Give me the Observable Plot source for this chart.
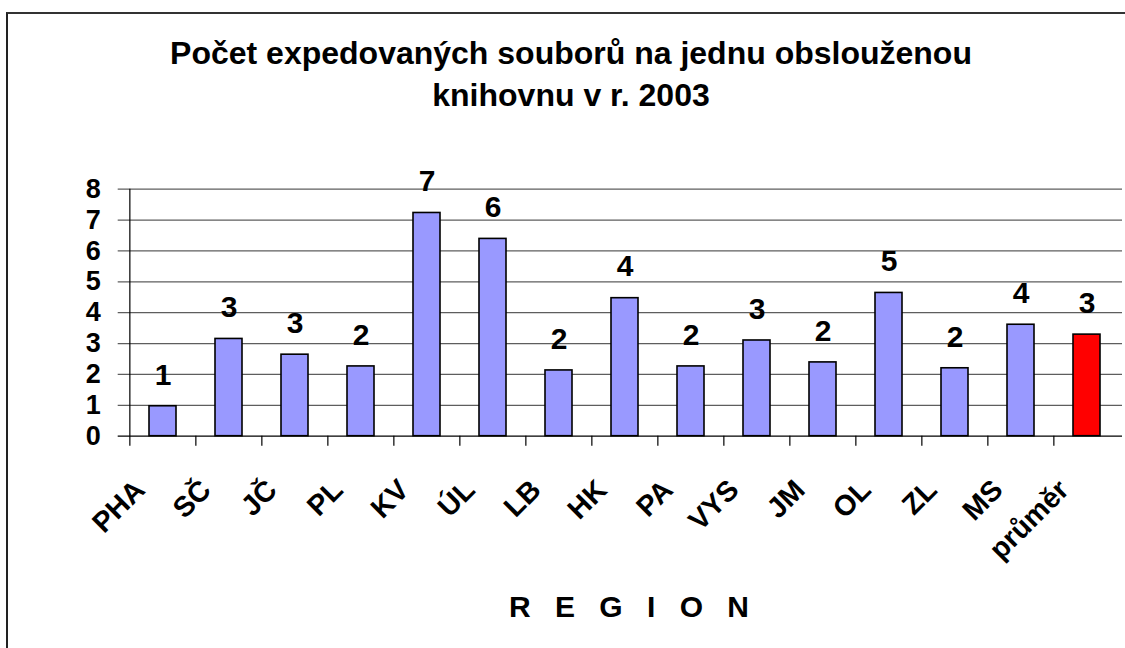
<!DOCTYPE html>
<html>
<head>
<meta charset="utf-8">
<script src="https://cdn.jsdelivr.net/npm/d3@7"></script>
<script src="https://cdn.jsdelivr.net/npm/@observablehq/plot@0.6"></script>
<style>
  html, body { margin: 0; padding: 0; background: #fff; }
  #wrap { position: relative; width: 1125px; height: 648px; overflow: hidden; font-family: "Liberation Sans", Arial, sans-serif; }
  #border { position: absolute; left: 6px; top: 12px; width: 1300px; height: 800px; border-top: 2px solid #333; border-left: 2px solid #222; }
  #title { position: absolute; left: 71px; width: 1000px; top: 32px; text-align: center; font-weight: bold; font-size: 32px; line-height: 42px; color: #000; }
  #xlabel { position: absolute; left: 375px; width: 500px; top: 592px; text-align: center; font-weight: bold; font-size: 30px; line-height: 30px; letter-spacing: 8px; padding-left: 8px; color: #000; white-space: pre; }
  #chart { position: absolute; left: 0; top: 0; }
</style>
</head>
<body>
<div id="wrap">
  <div id="border"></div>
  <div id="chart"></div>
  <div id="title">Počet expedovaných souborů na jednu obslouženou<br>knihovnu v r. 2003</div>
  <div id="xlabel">R E G I O N</div>
</div>
<script>
const regions = ["PHA", "SČ", "JČ", "PL", "KV", "ÚL", "LB", "HK", "PA", "VYS", "JM", "OL", "ZL", "MS", "průměr"];
const values  = [0.97, 3.15, 2.64, 2.26, 7.23, 6.39, 2.13, 4.47, 2.26, 3.10, 2.39, 4.64, 2.20, 3.61, 3.29];
const valueLabels = ["1", "3", "3", "2", "7", "6", "2", "4", "2", "3", "2", "5", "2", "4", "3"];
const yTicks = [0, 1, 2, 3, 4, 5, 6, 7, 8];
const averageName = "průměr";

const data = regions.map((r, i) => ({region: r, value: values[i], label: valueLabels[i]}));

const W = 1125, H = 648;
const mL = 127.7, mR = 3, mT = 188.7, mB = H - 435.7;
const step = (W - mL - mR) / regions.length;

const chart = Plot.plot({
  width: W,
  height: H,
  marginLeft: mL,
  marginRight: mR,
  marginTop: mT,
  marginBottom: mB,
  style: {fontFamily: "'Liberation Sans', Arial, sans-serif", fontSize: "27px", fontWeight: "bold", color: "#000", background: "transparent", overflow: "visible"},
  x: {domain: regions, paddingInner: 0.59, paddingOuter: 0.295, axis: null},
  y: {domain: [0, 8], ticks: yTicks, tickSize: 0, tickPadding: 27.5, tickFormat: d => String(d), label: null},
  marks: [
    Plot.ruleY(yTicks.filter(t => t > 0), {y: d => d, stroke: "#5e5e5e", strokeWidth: 1.3, insetLeft: -10}),
    Plot.barY(data, {x: "region", y: "value", fill: d => d.region === averageName ? "#ff0000" : "#9999ff", stroke: "#000", strokeWidth: 1.6}),
    Plot.ruleY([0], {stroke: "#000", strokeWidth: 1.2, insetLeft: -10}),
    Plot.ruleX([regions[0]], {x: d => d, y1: () => 8, y2: () => 0, dx: -step / 2, insetBottom: -10, stroke: "#000", strokeWidth: 1.2}),
    Plot.ruleX(regions.slice(1), {x: d => d, y1: () => 0, y2: () => 0, dx: -step / 2, insetBottom: -10, stroke: "#000", strokeWidth: 1.2}),
    Plot.text(data, {x: "region", y: "value", text: "label", dy: -21.7, lineAnchor: "bottom", fontSize: 30, fontWeight: "bold", fill: "#000"}),
    Plot.text(regions, {x: d => d, frameAnchor: "bottom", text: d => d, rotate: -45, textAnchor: "end", lineAnchor: "middle", dx: -23, dy: 49, fontSize: 28.5, fontWeight: "bold", fill: "#000"})
  ]
});
document.getElementById("chart").appendChild(chart);
</script>
</body>
</html>
